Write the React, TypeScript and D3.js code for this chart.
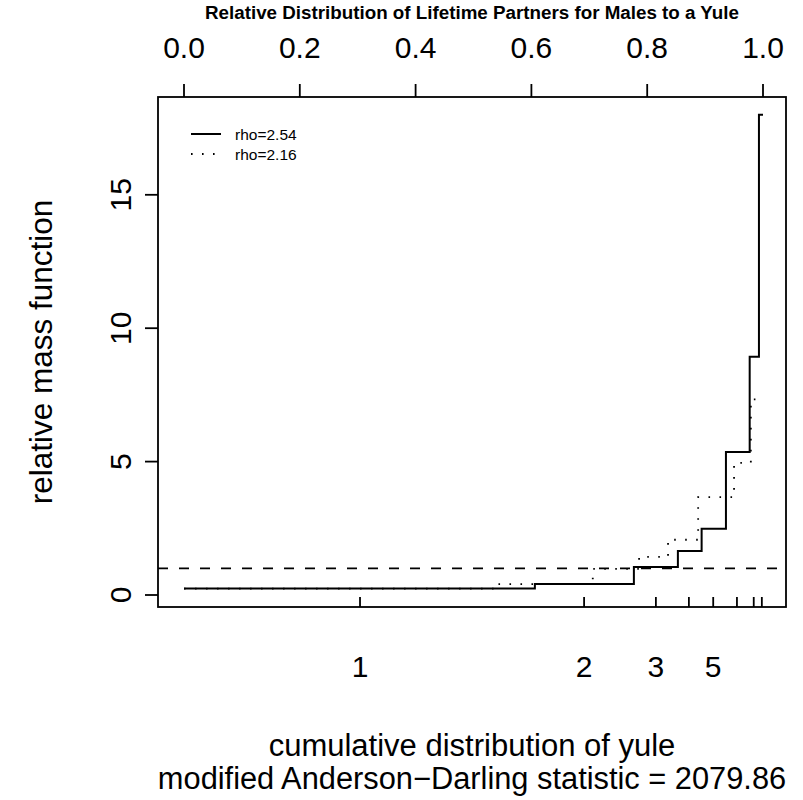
import React from 'react';
import * as d3 from 'd3';

// relative mass function, step edges on the cumulative scale
const solidEdges = [0, 0.606, 0.777, 0.853, 0.894, 0.936, 0.977, 0.993, 1.0];
const solidValues = [0.24, 0.41, 1.05, 1.65, 2.48, 5.36, 8.93, 18.0];

const dottedEdges = [0, 0.537, 0.706, 0.786, 0.836, 0.888, 0.95, 0.979, 0.998];
const dottedValues = [0.24, 0.41, 0.98, 1.43, 2.07, 3.67, 4.95, 7.33];

const legendLabels = ['rho=2.54', 'rho=2.16'];

const topTicks = [0, 0.2, 0.4, 0.6, 0.8, 1.0];
const yTicks = [0, 5, 10, 15];

// yule reference quantiles on the bottom axis
const bottomTickPos = [0.304, 0.691, 0.815, 0.872, 0.914, 0.955, 0.984, 0.998];
const bottomTickLabels = ['1', '2', '3', '', '5', '', '', ''];

const W = 803;
const H = 800;
const box = { left: 158, right: 786, top: 97, bottom: 607 };
const font = 'Liberation Sans, Arial, Helvetica, sans-serif';

const App: React.FC = () => {
  const x = d3.scaleLinear().domain([0, 1]).range([184, 763]);
  const y = d3.scaleLinear().domain([0, 15]).range([595, 194.8]);

  const stepPath = (edges: number[], values: number[]) => {
    const pts: [number, number][] = values.map((v, i) => [edges[i], v]);
    pts.push([edges[edges.length - 1], values[values.length - 1]]);
    return d3.line<[number, number]>()
      .x(d => x(d[0]))
      .y(d => y(d[1]))
      .curve(d3.curveStepAfter)(pts) || '';
  };

  const tickLen = 13;

  return (
    <div style={{ position: 'absolute', left: 0, top: 0 }}>
      <svg width={W} height={H} style={{ display: 'block', background: '#fff' }} fontFamily={font}>
        {/* title */}
        <text x={(box.left + box.right) / 2} y={19} textAnchor="middle" fontSize={18.8} fontWeight="bold">
          Relative Distribution of Lifetime Partners for Males to a Yule
        </text>

        {/* reference line */}
        <line x1={box.left} x2={box.right} y1={y(1)} y2={y(1)} stroke="#000" strokeWidth={1.8} strokeDasharray="10 11" />

        {/* series */}
        <path d={stepPath(dottedEdges, dottedValues)} fill="none" stroke="#000" strokeWidth={1.8} strokeDasharray="1.6 9.4" />
        <path d={stepPath(solidEdges, solidValues)} fill="none" stroke="#000" strokeWidth={2} />

        {/* box */}
        <rect x={box.left} y={box.top} width={box.right - box.left} height={box.bottom - box.top} fill="none" stroke="#000" strokeWidth={1.8} />

        {/* top axis */}
        {topTicks.map(t => (
          <g key={'t' + t}>
            <line x1={x(t)} x2={x(t)} y1={box.top} y2={box.top - tickLen} stroke="#000" strokeWidth={1.8} />
            <text x={x(t)} y={58} textAnchor="middle" fontSize={30}>{t.toFixed(1)}</text>
          </g>
        ))}

        {/* left axis */}
        {yTicks.map(t => (
          <g key={'y' + t}>
            <line x1={box.left} x2={box.left - tickLen} y1={y(t)} y2={y(t)} stroke="#000" strokeWidth={1.8} />
            <text transform={`translate(131,${y(t)}) rotate(-90)`} textAnchor="middle" fontSize={30}>{t}</text>
          </g>
        ))}
        <text transform={`translate(52,${(box.top + box.bottom) / 2}) rotate(-90)`} textAnchor="middle" fontSize={31.5}>
          relative mass function
        </text>

        {/* bottom reference axis, ticks inward */}
        {bottomTickPos.map((p, i) => (
          <g key={'b' + i}>
            <line x1={x(p)} x2={x(p)} y1={box.bottom} y2={box.bottom - 10} stroke="#000" strokeWidth={1.8} />
            {bottomTickLabels[i] && (
              <text x={x(p)} y={677} textAnchor="middle" fontSize={30}>{bottomTickLabels[i]}</text>
            )}
          </g>
        ))}
        <text x={(box.left + box.right) / 2} y={756} textAnchor="middle" fontSize={31}>
          cumulative distribution of yule
        </text>
        <text x={(box.left + box.right) / 2} y={789} textAnchor="middle" fontSize={30.8}>
          modified Anderson−Darling statistic = 2079.86
        </text>

        {/* legend */}
        {legendLabels.map((lab, i) => (
          <g key={lab} transform={`translate(0,${134 + i * 20})`}>
            <line x1={191} x2={221} y1={0} y2={0} stroke="#000" strokeWidth={i === 0 ? 2 : 1.8}
              strokeDasharray={i === 0 ? undefined : '1.6 9.4'} />
            <text x={235} y={6} fontSize={15.5}>{lab}</text>
          </g>
        ))}
      </svg>
    </div>
  );
};

export default App;
